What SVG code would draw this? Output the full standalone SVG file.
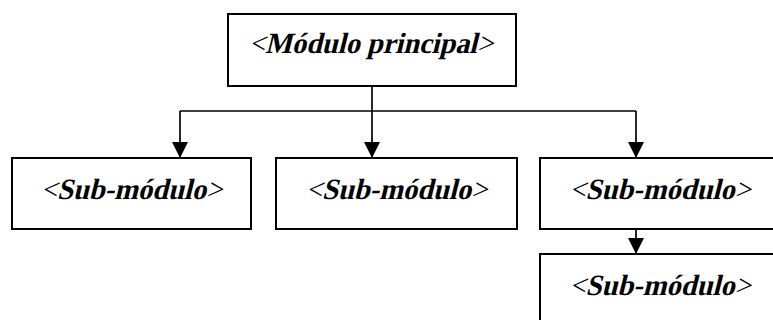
<svg xmlns="http://www.w3.org/2000/svg" width="773" height="320" viewBox="0 0 773 320">
  <style>
    .box { fill: #ffffff; stroke: #000000; stroke-width: 2; }
    .lbl { font-family: "Liberation Serif", "Times New Roman", serif; font-size: 29.3px; fill: #000000; text-anchor: middle; }
    .em { font-weight: bold; }
    .wire { fill: none; stroke: #000000; stroke-width: 1.7; }
  </style>
  <defs>
    <marker id="arrow" markerUnits="userSpaceOnUse" markerWidth="16" markerHeight="16" viewBox="0 0 16 16" refX="16" refY="8" orient="auto">
      <path d="M0,0 L16,8 L0,16 Z" fill="#000000"/>
    </marker>
  </defs>
  <rect width="773" height="320" fill="#ffffff"/>

  <g id="connectors">
    <path class="wire" d="M372,86 V111"/>
    <path class="wire" d="M180,111 H636"/>
    <path class="wire" d="M180,111 V158" marker-end="url(#arrow)"/>
    <path class="wire" d="M372,111 V158" marker-end="url(#arrow)"/>
    <path class="wire" d="M636,111 V158" marker-end="url(#arrow)"/>
    <path class="wire" d="M636,229 V254" marker-end="url(#arrow)"/>
  </g>

  <!-- labels: slanted bold serif, skewed about their own baseline -->
  <g id="main">
    <rect class="box" x="228" y="14" width="288" height="72"/>
    <text class="lbl" transform="translate(371,53) skewX(-14)" x="0" y="0" textLength="244" lengthAdjust="spacingAndGlyphs">&lt;<tspan class="em">Módulo principal</tspan>&gt;</text>
  </g>

  <g id="sub1">
    <rect class="box" x="12" y="158" width="239" height="71"/>
    <text class="lbl" transform="translate(131.5,199) skewX(-14)" x="0" y="0" textLength="181" lengthAdjust="spacingAndGlyphs">&lt;<tspan class="em">Sub-módulo</tspan>&gt;</text>
  </g>

  <g id="sub2">
    <rect class="box" x="276" y="158" width="241" height="71"/>
    <text class="lbl" transform="translate(396.5,199) skewX(-14)" x="0" y="0" textLength="181" lengthAdjust="spacingAndGlyphs">&lt;<tspan class="em">Sub-módulo</tspan>&gt;</text>
  </g>

  <g id="sub3">
    <rect class="box" x="540" y="158" width="240" height="71"/>
    <text class="lbl" transform="translate(660,199) skewX(-14)" x="0" y="0" textLength="181" lengthAdjust="spacingAndGlyphs">&lt;<tspan class="em">Sub-módulo</tspan>&gt;</text>
  </g>

  <g id="sub4">
    <rect class="box" x="540" y="254" width="240" height="71"/>
    <text class="lbl" transform="translate(660,295) skewX(-14)" x="0" y="0" textLength="181" lengthAdjust="spacingAndGlyphs">&lt;<tspan class="em">Sub-módulo</tspan>&gt;</text>
  </g>
</svg>
